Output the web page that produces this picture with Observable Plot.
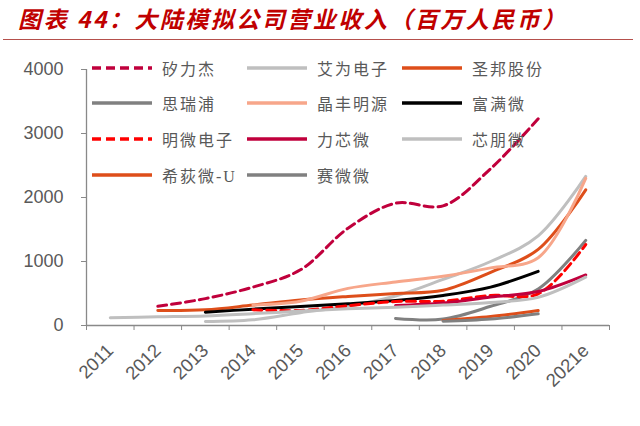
<!DOCTYPE html>
<html>
<head>
<meta charset="utf-8">
<script src="https://cdn.jsdelivr.net/npm/d3@7"></script>
<script src="https://cdn.jsdelivr.net/npm/@observablehq/plot@0.6"></script>
<style>
  html, body { margin: 0; padding: 0; background: #fff; }
  #wrap { position: relative; width: 640px; height: 426px; overflow: hidden; background: #fff; }
  #title { position: absolute; left: 18px; top: 3px; font-family: "Noto Sans CJK SC", sans-serif; font-weight: 700; font-style: italic; font-size: 23px; letter-spacing: 2.5px; color: #C00000; white-space: nowrap; line-height: 30px; }
  #rule { position: absolute; left: 3px; top: 39px; width: 630px; height: 0; border-top: 1.5px solid #B5504C; }
  #chart { position: absolute; left: 0; top: 45px; }
  #legend { position: absolute; left: 0; top: 0; width: 640px; height: 200px; pointer-events: none; }
  .item { position: absolute; height: 20px; display: flex; align-items: center; white-space: nowrap; }
  .item span { font-family: "Liberation Serif", "Noto Sans CJK SC", serif; font-size: 16px; letter-spacing: 2px; color: #595959; margin-left: 10px; }
</style>
</head>
<body>
<div id="wrap">
  <div id="title">图表 44：大陆模拟公司营业收入（百万人民币）</div>
  <div id="rule"></div>
  <div id="chart"></div>
  <div id="legend"></div>
</div>
<script>
const years = ["2011","2012","2013","2014","2015","2016","2017","2018","2019","2020","2021e"];

const silergy   = [null, 300, 420, 600, 870, 1520, 1910, 1870, 2450, 3230, null];
const awinic    = [null, null, 63, 90, 200, 300, 460, 720, 1000, 1400, 2330];
const sgmicro   = [null, 234, 245, 320, 400, 455, 500, 550, 830, 1190, 2120];
const threepeak = [null, null, null, null, null, null, 110, 100, 300, 570, 1330];
const bpsemi    = [null, null, null, 320, 380, 580, 680, 770, 900, 1060, 2300];
const fine      = [null, null, 208, 255, 295, 340, 390, 470, 600, 845, null];
const sunmoon   = [null, null, null, 245, 235, 310, 375, 380, 470, 495, 1265];
const etek      = [null, null, null, null, null, null, 312, 350, 445, 530, 790];
const chipown   = [120, 135, 150, 185, 225, 260, 285, 320, 360, 440, 755];
const halo      = [null, null, null, null, null, null, null, 78, 140, 234, null];
const cellwise  = [null, null, null, null, null, null, null, 67, 100, 183, null];

const seriesNames = ["矽力杰","艾为电子","圣邦股份","思瑞浦","晶丰明源","富满微","明微电子","力芯微","芯朋微","希荻微-U","赛微微"];
const seriesValues = [silergy, awinic, sgmicro, threepeak, bpsemi, fine, sunmoon, etek, chipown, halo, cellwise];

const styles = {
  "矽力杰":   {stroke: "#C0003C", dash: "9,5"},
  "艾为电子": {stroke: "#BFBFBF", dash: null},
  "圣邦股份": {stroke: "#DE4E1A", dash: null},
  "思瑞浦":   {stroke: "#808080", dash: null},
  "晶丰明源": {stroke: "#F7A68A", dash: null},
  "富满微":   {stroke: "#000000", dash: null},
  "明微电子": {stroke: "#FF0000", dash: "9,5"},
  "力芯微":   {stroke: "#C0003C", dash: null},
  "芯朋微":   {stroke: "#BFBFBF", dash: null},
  "希荻微-U": {stroke: "#DE4E1A", dash: null},
  "赛微微":   {stroke: "#808080", dash: null}
};

const axisColor = "#898989";
const textColor = "#595959";

const marks = [];
marks.push(Plot.ruleY([0], {stroke: axisColor, strokeWidth: 1.3}));
marks.push(Plot.ruleX([-0.5], {stroke: axisColor, strokeWidth: 1.3}));
marks.push(Plot.axisY({ticks: [0, 1000, 2000, 3000, 4000], tickSize: 5, tickPadding: 18, fontSize: 18, stroke: axisColor, fill: textColor, label: null, tickFormat: d => String(d)}));
marks.push(Plot.axisX({ticks: d3.range(-0.5, 11, 1), tickSize: 5, stroke: axisColor, tickFormat: () => "", label: null}));
marks.push(Plot.text(d3.range(0, 11), {x: d => d, y: () => 0, text: i => years[i], rotate: -45, textAnchor: "end", lineAnchor: "middle", dx: 0, dy: 22, fontSize: 18.5, fill: textColor}));

seriesNames.forEach((name, k) => {
  const rows = [];
  seriesValues[k].forEach((v, i) => { if (v != null) rows.push({i, v}); });
  const st = styles[name];
  marks.push(Plot.line(rows, {x: "i", y: "v", curve: "catmull-rom", stroke: st.stroke, strokeWidth: 3, strokeDasharray: st.dash || undefined}));
});

const chart = Plot.plot({
  width: 640,
  height: 381,
  marginTop: 24,
  marginBottom: 101,
  marginLeft: 86,
  marginRight: 31,
  x: {domain: [-0.5, 10.5]},
  y: {domain: [0, 4000]},
  style: {fontFamily: "'Liberation Sans', Arial, sans-serif", background: "white", overflow: "visible"},
  marks
});
document.getElementById("chart").appendChild(chart);

// legend: 3 columns x 4 rows
const legend = document.getElementById("legend");
const colX = [92, 247, 402];
const rowY = [68, 103, 139, 175];
seriesNames.forEach((name, k) => {
  const st = styles[name];
  const item = document.createElement("div");
  item.className = "item";
  item.style.left = colX[k % 3] + "px";
  item.style.top = (rowY[Math.floor(k / 3)] - 10) + "px";
  const ns = "http://www.w3.org/2000/svg";
  const svg = document.createElementNS(ns, "svg");
  svg.setAttribute("width", 60);
  svg.setAttribute("height", 20);
  const ln = document.createElementNS(ns, "line");
  ln.setAttribute("x1", 0); ln.setAttribute("x2", 60);
  ln.setAttribute("y1", 10); ln.setAttribute("y2", 10);
  ln.setAttribute("stroke", st.stroke);
  ln.setAttribute("stroke-width", 3.5);
  if (st.dash) ln.setAttribute("stroke-dasharray", st.dash);
  svg.appendChild(ln);
  item.appendChild(svg);
  const sp = document.createElement("span");
  sp.textContent = name;
  item.appendChild(sp);
  legend.appendChild(item);
});
</script>
</body>
</html>
